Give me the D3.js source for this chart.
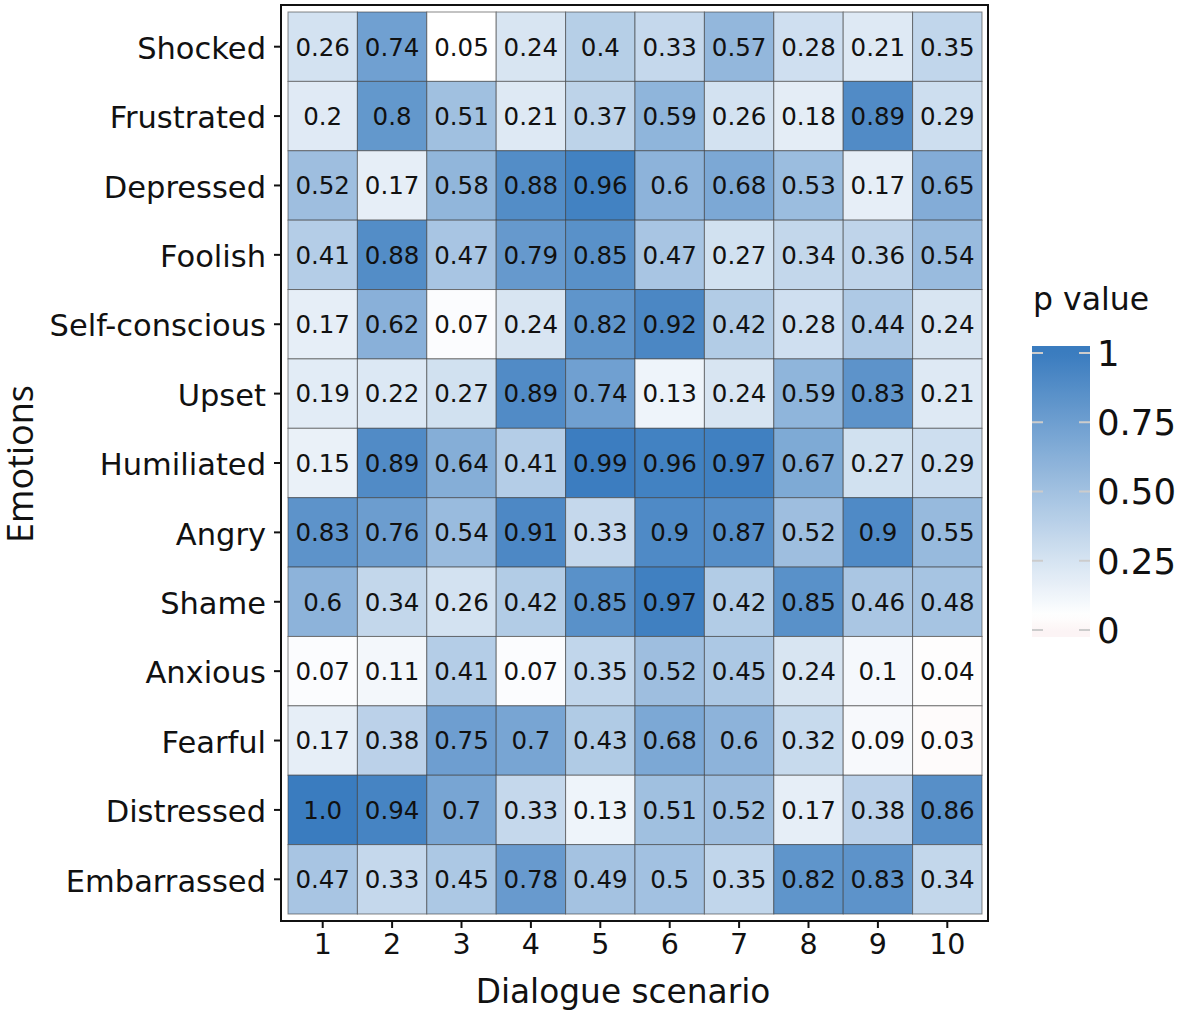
<!DOCTYPE html>
<html><head><meta charset="utf-8">
<script src="https://cdn.jsdelivr.net/npm/d3@7"></script>
<style>body{margin:0;background:#fff;} svg{display:block;}</style>
</head><body>
<svg id="chart" width="1181" height="1015"></svg>
<script>
const emotions = ["Shocked","Frustrated","Depressed","Foolish","Self-conscious","Upset","Humiliated","Angry","Shame","Anxious","Fearful","Distressed","Embarrassed"];
const scenarios = ["1","2","3","4","5","6","7","8","9","10"];
const shocked       = [0.26,0.74,0.05,0.24,0.4,0.33,0.57,0.28,0.21,0.35];
const frustrated    = [0.2,0.8,0.51,0.21,0.37,0.59,0.26,0.18,0.89,0.29];
const depressed     = [0.52,0.17,0.58,0.88,0.96,0.6,0.68,0.53,0.17,0.65];
const foolish       = [0.41,0.88,0.47,0.79,0.85,0.47,0.27,0.34,0.36,0.54];
const selfConscious = [0.17,0.62,0.07,0.24,0.82,0.92,0.42,0.28,0.44,0.24];
const upset         = [0.19,0.22,0.27,0.89,0.74,0.13,0.24,0.59,0.83,0.21];
const humiliated    = [0.15,0.89,0.64,0.41,0.99,0.96,0.97,0.67,0.27,0.29];
const angry         = [0.83,0.76,0.54,0.91,0.33,0.9,0.87,0.52,0.9,0.55];
const shame         = [0.6,0.34,0.26,0.42,0.85,0.97,0.42,0.85,0.46,0.48];
const anxious       = [0.07,0.11,0.41,0.07,0.35,0.52,0.45,0.24,0.1,0.04];
const fearful       = [0.17,0.38,0.75,0.7,0.43,0.68,0.6,0.32,0.09,0.03];
const distressed    = [1.0,0.94,0.7,0.33,0.13,0.51,0.52,0.17,0.38,0.86];
const embarrassed   = [0.47,0.33,0.45,0.78,0.49,0.5,0.35,0.82,0.83,0.34];
const rows = [shocked,frustrated,depressed,foolish,selfConscious,upset,humiliated,angry,shame,anxious,fearful,distressed,embarrassed];
const legendTicks = [0,0.25,0.5,0.75,1];
const legendTickLabels = ["0","0.25","0.50","0.75","1"];

const FONT = "DejaVu Sans, sans-serif";
const svg = d3.select("#chart");

const cells = [];
rows.forEach((r,i)=>r.forEach((v,j)=>cells.push({e:emotions[i],s:scenarios[j],v})));

const x = d3.scaleBand().domain(scenarios).range([288,982]);
const y = d3.scaleBand().domain(emotions).range([12,914]);

// gradient2-like colour: low red, mid white at 0.05, high blue
const mid = 0.05;
const lowCol = "#c0303a", highCol = "#3a7cbf";
function color(v){
  const d = Math.max(1-mid, mid);
  const t = (v-mid)/(2*d)+0.5;
  if (t>=0.5) return d3.interpolateRgb("#ffffff", highCol)((t-0.5)*2);
  return d3.interpolateRgb("#ffffff", lowCol)((0.5-t)*2);
}

svg.append("g").selectAll("rect").data(cells).join("rect")
  .attr("x",d=>x(d.s)).attr("y",d=>y(d.e))
  .attr("width",x.bandwidth()).attr("height",y.bandwidth())
  .attr("fill",d=>color(d.v))
  .attr("stroke","#3a3a3a").attr("stroke-opacity",0.6).attr("stroke-width",1);

svg.append("g").selectAll("text").data(cells).join("text")
  .attr("x",d=>x(d.s)+x.bandwidth()/2).attr("y",d=>y(d.e)+y.bandwidth()/2)
  .attr("dy","0.36em").attr("text-anchor","middle")
  .attr("font-family",FONT).attr("font-size",24.5).attr("fill","#111")
  .text(d=>d.v===1?"1.0":String(d.v));

// frame
svg.append("rect").attr("x",281).attr("y",5).attr("width",707).attr("height",916)
  .attr("fill","none").attr("stroke","#111").attr("stroke-width",2);

// axes
const xAxis = svg.append("g").attr("transform","translate(0,921)")
  .call(d3.axisBottom(x).tickSize(7).tickPadding(6));
const yAxis = svg.append("g").attr("transform","translate(281,0)")
  .call(d3.axisLeft(y).tickSize(7).tickPadding(8));
[xAxis,yAxis].forEach(a=>{
  a.select(".domain").remove();
  a.selectAll(".tick line").attr("stroke","#111").attr("stroke-width",2);
  a.selectAll(".tick text").attr("font-family",FONT).attr("fill","#111");
});
xAxis.selectAll(".tick text").attr("font-size",28.5);
yAxis.selectAll(".tick text").attr("font-size",30.5).attr("dy","0.40em");

svg.append("text").attr("x",623).attr("y",1003).attr("text-anchor","middle")
  .attr("font-family",FONT).attr("font-size",32.8).attr("fill","#111").text("Dialogue scenario");
svg.append("text").attr("transform","translate(33,464) rotate(-90)").attr("text-anchor","middle")
  .attr("font-family","Open Sans, sans-serif").attr("font-size",36).attr("fill","#111").text("Emotions");

// legend
const ly = d3.scaleLinear().domain([0,1]).range([630,353]);
const defs = svg.append("defs");
const grad = defs.append("linearGradient").attr("id","lg").attr("x1",0).attr("x2",0).attr("y1",1).attr("y2",0);
const barTop = 346, barBot = 637;
d3.range(0,1.0001,0.02).forEach(p=>{
  const yy = barBot - p*(barBot-barTop);
  const v = Math.max(0,Math.min(1,ly.invert(yy)));
  grad.append("stop").attr("offset",p).attr("stop-color",color(v));
});
svg.append("rect").attr("x",1032).attr("y",barTop).attr("width",58).attr("height",barBot-barTop).attr("fill","url(#lg)");
const lg = svg.append("g");
lg.selectAll("line.l").data(legendTicks).join("line").attr("class","l")
  .attr("x1",1032).attr("x2",1043).attr("y1",d=>ly(d)).attr("y2",d=>ly(d))
  .attr("stroke","#cccccc").attr("stroke-width",2);
lg.selectAll("line.r").data(legendTicks).join("line").attr("class","r")
  .attr("x1",1079).attr("x2",1090).attr("y1",d=>ly(d)).attr("y2",d=>ly(d))
  .attr("stroke","#cccccc").attr("stroke-width",2);
lg.selectAll("text").data(legendTicks).join("text")
  .attr("x",1097).attr("y",d=>ly(d)).attr("dy","0.36em")
  .attr("font-family",FONT).attr("font-size",35.5).attr("fill","#111")
  .text((d,i)=>legendTickLabels[i]);
svg.append("text").attr("x",1033).attr("y",310)
  .attr("font-family",FONT).attr("font-size",31.5).attr("fill","#111").text("p value");
</script>
</body></html>
